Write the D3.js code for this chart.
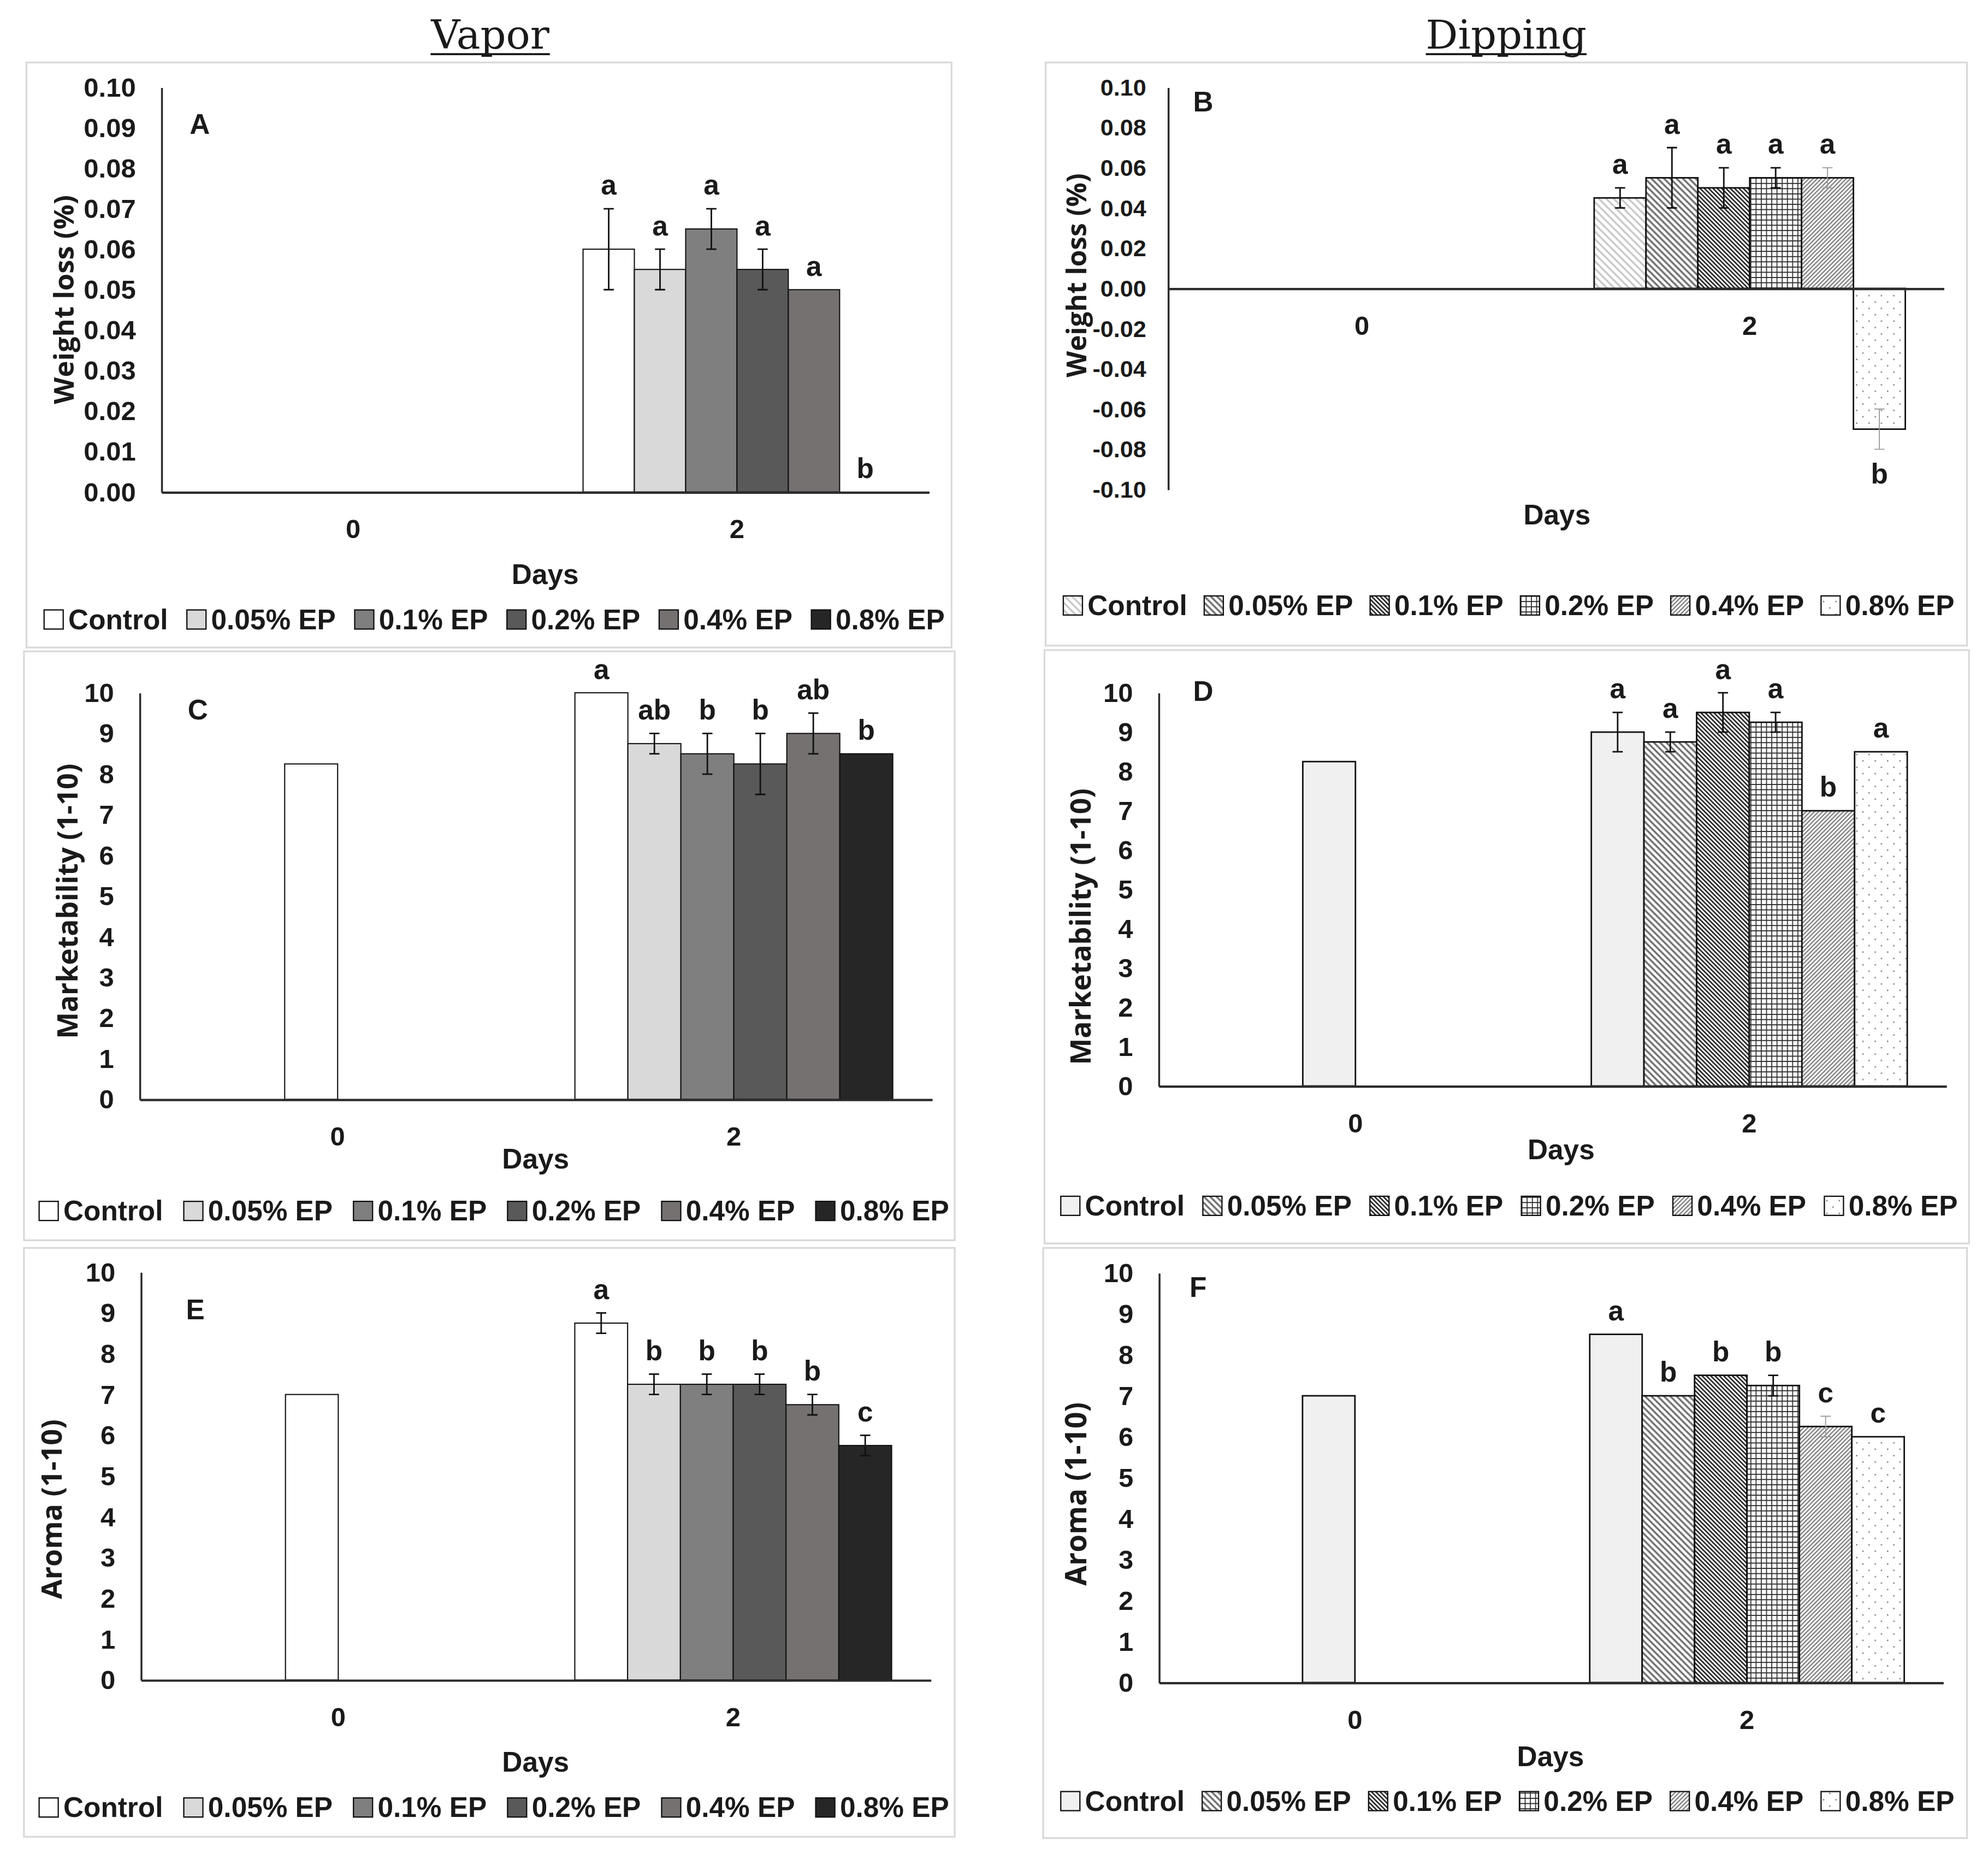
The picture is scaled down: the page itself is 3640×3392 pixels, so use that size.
<!DOCTYPE html>
<html>
<head>
<meta charset="utf-8">
<script src="https://cdn.jsdelivr.net/npm/d3@7"></script>
<style>
  body { margin: 0; background: #fff; }
  svg { display: block; }
  text { font-family: 'Liberation Sans', Arial, sans-serif; font-weight: bold; fill: #1a1a1a; }
</style>
</head>
<body>
<script>
// ---- data ----
const days = ['0', '2'];
const treatments = ['Control', '0.05% EP', '0.1% EP', '0.2% EP', '0.4% EP', '0.8% EP'];

const weightTicksVapor = [0, 0.01, 0.02, 0.03, 0.04, 0.05, 0.06, 0.07, 0.08, 0.09, 0.10];
const weightTicksDip = [-0.10, -0.08, -0.06, -0.04, -0.02, 0, 0.02, 0.04, 0.06, 0.08, 0.10];
const scoreTicks = [0, 1, 2, 3, 4, 5, 6, 7, 8, 9, 10];

// day 0: only the control was measured
const day0Control = [0, 0, 8.25, 8.25, 7, 7]; // panels A..F

// day 2, one value per treatment
const weightVapor = [0.06, 0.055, 0.065, 0.055, 0.05, 0];
const weightVaporErr = [0.01, 0.005, 0.005, 0.005, 0, 0];
const weightVaporSig = ['a', 'a', 'a', 'a', 'a', 'b'];

const weightDip = [0.045, 0.055, 0.05, 0.055, 0.055, -0.07];
const weightDipErr = [0.005, 0.015, 0.01, 0.005, 0.005, 0.01];
const weightDipSig = ['a', 'a', 'a', 'a', 'a', 'b'];

const marketVapor = [10, 8.75, 8.5, 8.25, 9, 8.5];
const marketVaporErr = [0, 0.25, 0.5, 0.75, 0.5, 0];
const marketVaporSig = ['a', 'ab', 'b', 'b', 'ab', 'b'];

const marketDip = [9, 8.75, 9.5, 9.25, 7, 8.5];
const marketDipErr = [0.5, 0.25, 0.5, 0.25, 0, 0];
const marketDipSig = ['a', 'a', 'a', 'a', 'b', 'a'];

const aromaVapor = [8.75, 7.25, 7.25, 7.25, 6.75, 5.75];
const aromaVaporErr = [0.25, 0.25, 0.25, 0.25, 0.25, 0.25];
const aromaVaporSig = ['a', 'b', 'b', 'b', 'b', 'c'];

const aromaDip = [8.5, 7, 7.5, 7.25, 6.25, 6];
const aromaDipErr = [0, 0, 0, 0.25, 0.25, 0];
const aromaDipSig = ['a', 'b', 'b', 'b', 'c', 'c'];

// ---- page ----
const W = 3640;
const H = 3392;
const vbW = 1560;
const vbH = vbW * H / W;

const svg = d3.select('body').append('svg')
  .attr('width', W)
  .attr('height', H)
  .attr('viewBox', `0 0 ${vbW} ${vbH}`);

svg.append('rect').attr('width', vbW).attr('height', vbH).attr('fill', '#fff');

const defs = svg.append('defs');

function makeStripes(id, angle, gap, color, width) {
  const p = defs.append('pattern')
    .attr('id', id)
    .attr('patternUnits', 'userSpaceOnUse')
    .attr('width', gap)
    .attr('height', gap)
    .attr('patternTransform', `rotate(${angle})`);
  p.append('rect').attr('width', gap).attr('height', gap).attr('fill', '#fff');
  p.append('line')
    .attr('x1', gap / 2).attr('y1', -1)
    .attr('x2', gap / 2).attr('y2', gap + 1)
    .attr('stroke', color)
    .attr('stroke-width', width);
}

makeStripes('ctrlStripe', -45, 4.1, '#c6c6c6', 1.4);
makeStripes('stripe05', -45, 3.5, '#6f6f6f', 1.5);
makeStripes('stripe1', -45, 2.4, '#151515', 1.1);
makeStripes('stripe4', 45, 2.3, '#7b7b7b', 1.0);

const grid = defs.append('pattern')
  .attr('id', 'grid2')
  .attr('patternUnits', 'userSpaceOnUse')
  .attr('width', 4.1)
  .attr('height', 4.1);
grid.append('rect').attr('width', 4.1).attr('height', 4.1).attr('fill', '#fff');
grid.append('path')
  .attr('d', 'M0,0.4H4.1M0.4,0V4.1')
  .attr('stroke', '#2e2e2e')
  .attr('stroke-width', 0.75);

const dots = defs.append('pattern')
  .attr('id', 'dots8')
  .attr('patternUnits', 'userSpaceOnUse')
  .attr('width', 9.7)
  .attr('height', 10);
dots.append('rect').attr('width', 9.7).attr('height', 10).attr('fill', '#fff');
dots.append('circle').attr('cx', 2).attr('cy', 2).attr('r', 0.6).attr('fill', '#7a7a7a');
dots.append('circle').attr('cx', 6.85).attr('cy', 7).attr('r', 0.6).attr('fill', '#7a7a7a');

const vaporFills = ['#ffffff', '#d9d9d9', '#7f7f7f', '#595959', '#767171', '#262626'];
const dipFillsB = ['url(#ctrlStripe)', 'url(#stripe05)', 'url(#stripe1)', 'url(#grid2)', 'url(#stripe4)', 'url(#dots8)'];
const dipFills = ['#f0f0f0', 'url(#stripe05)', 'url(#stripe1)', 'url(#grid2)', 'url(#stripe4)', 'url(#dots8)'];

const fix2 = v => v.toFixed(2);
const int = v => String(v);

const panels = [
  { id: 'A', title: 'Weight loss (%)', day0: day0Control[0], values: weightVapor, err: weightVaporErr, sig: weightVaporSig,
    ticks: weightTicksVapor, domain: [0, 0.1], fmt: fix2, tickFont: 21, tickPad: 20,
    fills: vaporFills, greyErr: [], outline: 0.9,
    frame: [20.8, 49, 746.7, 508], xr: [126.6, 728.9], yr: [386, 68.5], titlePos: [49.7, 235], titleLen: 164,
    daysPos: [427.8, 450.5], legendY: 486, legendSpan: [34.6, 741.3], letterPos: [156.8, 97.5] },
  { id: 'B', title: 'Weight loss (%)', day0: day0Control[1], values: weightDip, err: weightDipErr, sig: weightDipSig,
    ticks: weightTicksDip, domain: [-0.1, 0.1], fmt: fix2, tickFont: 18.5, tickPad: 17,
    fills: dipFillsB, greyErr: [4, 5], outline: 1.2,
    frame: [820.5, 49, 1543.5, 506.5], xr: [916.5, 1525.2], yr: [384, 68.5], titlePos: [844.2, 216], titleLen: 160,
    daysPos: [1221.8, 404], legendY: 475, legendSpan: [834.4, 1533.6], letterPos: [944.2, 80] },
  { id: 'C', title: 'Marketability (1-10)', day0: day0Control[2], values: marketVapor, err: marketVaporErr, sig: marketVaporSig,
    ticks: scoreTicks, domain: [0, 10], fmt: int, tickFont: 21, tickPad: 20,
    fills: vaporFills, greyErr: [], outline: 0.9,
    frame: [18.8, 511, 749.2, 973], xr: [109.5, 731.3], yr: [862.5, 543.5], titlePos: [52.2, 707], titleLen: 216,
    daysPos: [420.3, 909], legendY: 950, legendSpan: [30.7, 744.7], letterPos: [155.3, 557] },
  { id: 'D', title: 'Marketability (1-10)', day0: day0Control[3], values: marketDip, err: marketDipErr, sig: marketDipSig,
    ticks: scoreTicks, domain: [0, 10], fmt: int, tickFont: 21, tickPad: 20,
    fills: dipFills, greyErr: [], outline: 1.2,
    frame: [819.6, 510, 1545.1, 975.5], xr: [909.1, 1527.2], yr: [852, 543.5], titlePos: [847.3, 727], titleLen: 217,
    daysPos: [1225, 902], legendY: 946, legendSpan: [832.4, 1536.2], letterPos: [944.2, 542.5] },
  { id: 'E', title: 'Aroma (1-10)', day0: day0Control[4], values: aromaVapor, err: aromaVaporErr, sig: aromaVaporSig,
    ticks: scoreTicks, domain: [0, 10], fmt: int, tickFont: 21, tickPad: 20,
    fills: vaporFills, greyErr: [], outline: 0.9,
    frame: [18.8, 979, 749.2, 1441], xr: [110.5, 730.3], yr: [1318, 998], titlePos: [39.6, 1184], titleLen: 141,
    daysPos: [420.3, 1382.5], legendY: 1418, legendSpan: [30.7, 744.7], letterPos: [153.3, 1027.5] },
  { id: 'F', title: 'Aroma (1-10)', day0: day0Control[5], values: aromaDip, err: aromaDipErr, sig: aromaDipSig,
    ticks: scoreTicks, domain: [0, 10], fmt: int, tickFont: 21, tickPad: 20,
    fills: dipFills, greyErr: [4], outline: 1.2,
    frame: [818.6, 979, 1543.5, 1442], xr: [909.4, 1524.7], yr: [1320, 998.6], titlePos: [843.7, 1172], titleLen: 144,
    daysPos: [1216.7, 1378], legendY: 1413, legendSpan: [832.4, 1533.6], letterPos: [940.2, 1010] },
];

// column headings
[['Vapor', 384.7], ['Dipping', 1181.9]].forEach(([label, cx]) => {
  const t = svg.append('text')
    .attr('x', cx)
    .attr('y', 38)
    .attr('text-anchor', 'middle')
    .style('font-family', "'DejaVu Serif', 'Liberation Serif', serif")
    .style('font-weight', 'normal')
    .style('font-size', '31.5px')
    .text(label);
  const bb = t.node().getBBox();
  svg.append('line')
    .attr('x1', bb.x).attr('x2', bb.x + bb.width)
    .attr('y1', 42.5).attr('y2', 42.5)
    .attr('stroke', '#1a1a1a')
    .attr('stroke-width', 1.6);
});

function drawPanel(p) {
  const g = svg.append('g').attr('class', `panel-${p.id}`);

  g.append('rect')
    .attr('x', p.frame[0]).attr('y', p.frame[1])
    .attr('width', p.frame[2] - p.frame[0]).attr('height', p.frame[3] - p.frame[1])
    .attr('fill', '#fff')
    .attr('stroke', '#d9d9d9')
    .attr('stroke-width', 1.4);

  const x0 = d3.scaleBand().domain(days).range(p.xr).padding(0);
  const barW = x0.bandwidth() * 0.1337;
  const x1 = d3.scaleBand().domain(treatments).range([0, barW * treatments.length]);
  const groupLeft = d => x0(d) + (x0.bandwidth() - barW * treatments.length) / 2;
  const y = d3.scaleLinear().domain(p.domain).range(p.yr);

  // day 0 control sits in the third slot of its group, as in the original
  const bars = [{ day: '0', slot: treatments[2], v: p.day0, e: 0, fill: p.fills[0], sig: null }]
    .concat(treatments.map((t, i) => ({
      day: '2', slot: t, v: p.values[i], e: p.err[i], fill: p.fills[i], sig: p.sig[i], grey: p.greyErr.includes(i),
    })));

  bars.forEach(b => { b.x = groupLeft(b.day) + x1(b.slot); });

  g.append('g').selectAll('rect')
    .data(bars.filter(b => b.v !== 0))
    .join('rect')
    .attr('x', b => b.x)
    .attr('y', b => y(Math.max(0, b.v)))
    .attr('width', barW)
    .attr('height', b => Math.abs(y(b.v) - y(0)))
    .attr('fill', b => b.fill)
    .attr('stroke', '#111')
    .attr('stroke-width', p.outline);

  // axes
  const yAxis = g.append('g')
    .attr('transform', `translate(${p.xr[0]},0)`)
    .call(d3.axisLeft(y).tickValues(p.ticks).tickFormat(p.fmt).tickSize(0).tickSizeOuter(0).tickPadding(p.tickPad));
  yAxis.select('.domain').attr('stroke', '#2b2b2b').attr('stroke-width', 1.5);
  yAxis.selectAll('text').style('font-size', `${p.tickFont}px`).attr('fill', '#1a1a1a');

  const xAxis = g.append('g')
    .attr('transform', `translate(0,${y(0)})`)
    .call(d3.axisBottom(x0).tickSize(0).tickSizeOuter(0));
  xAxis.select('.domain').attr('stroke', '#2b2b2b').attr('stroke-width', 1.8);
  xAxis.selectAll('text')
    .attr('y', 29)
    .attr('dy', '0.35em')
    .style('font-size', '21px')
    .attr('fill', '#1a1a1a');

  // error bars
  const errG = g.append('g');
  bars.filter(b => b.e > 0).forEach(b => {
    const cx = b.x + barW / 2;
    const col = b.grey ? '#9b9b9b' : '#111';
    const sw = b.grey ? 0.8 : 1.2;
    errG.append('path')
      .attr('d', `M${cx},${y(b.v - b.e)}V${y(b.v + b.e)}` +
        `M${cx - 4},${y(b.v - b.e)}H${cx + 4}M${cx - 4},${y(b.v + b.e)}H${cx + 4}`)
      .attr('fill', 'none')
      .attr('stroke', col)
      .attr('stroke-width', sw);
  });

  // significance letters
  g.append('g').selectAll('text')
    .data(bars.filter(b => b.sig))
    .join('text')
    .attr('x', b => b.x + barW / 2)
    .attr('y', b => (b.v < 0 ? y(b.v - b.e) + 27 : y(b.v + b.e) - 11))
    .attr('text-anchor', 'middle')
    .style('font-size', '22px')
    .text(b => b.sig);

  // panel letter
  g.append('text')
    .attr('x', p.letterPos[0]).attr('y', p.letterPos[1])
    .attr('text-anchor', 'middle')
    .attr('dominant-baseline', 'central')
    .style('font-size', '22px')
    .text(p.id);

  // y title, sized to the original's length
  const yt = g.append('text')
    .attr('transform', `translate(${p.titlePos[0]},${p.titlePos[1]}) rotate(-90)`)
    .attr('text-anchor', 'middle')
    .attr('dominant-baseline', 'central')
    .style('font-family', "'Open Sans', 'DejaVu Sans', sans-serif")
    .style('font-weight', 'bold')
    .style('font-size', '20px')
    .text(p.title);
  const len = yt.node().getComputedTextLength();
  yt.style('font-size', `${20 * p.titleLen / len}px`);

  // x title
  g.append('text')
    .attr('x', p.daysPos[0]).attr('y', p.daysPos[1])
    .attr('text-anchor', 'middle')
    .attr('dominant-baseline', 'central')
    .style('font-size', '22px')
    .text('Days');

  // legend spread over the original's span
  const lg = g.append('g');
  const box = 15;
  const items = treatments.map((t, i) => {
    const it = lg.append('g');
    it.append('rect')
      .attr('width', box).attr('height', box)
      .attr('y', p.legendY - box / 2)
      .attr('fill', p.fills[i])
      .attr('stroke', '#111')
      .attr('stroke-width', 1);
    const tx = it.append('text')
      .attr('x', box + 4)
      .attr('y', p.legendY)
      .attr('dominant-baseline', 'central')
      .style('font-size', '22px')
      .text(t);
    return { it, w: box + 4 + tx.node().getComputedTextLength() };
  });
  const total = d3.sum(items, d => d.w);
  const gap = (p.legendSpan[1] - p.legendSpan[0] - total) / (items.length - 1);
  let cur = p.legendSpan[0];
  items.forEach(d => {
    d.it.attr('transform', `translate(${cur},0)`);
    cur += d.w + gap;
  });
}

panels.forEach(drawPanel);
</script>
</body>
</html>
